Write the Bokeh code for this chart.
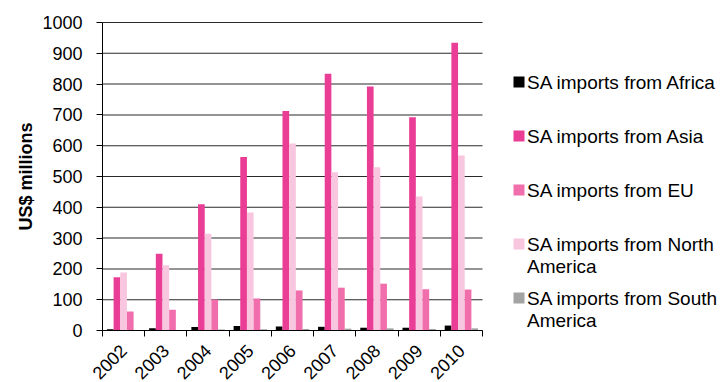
import math
from bokeh.plotting import figure
from bokeh.layouts import row
from bokeh.models import ColumnDataSource, Range1d, FixedTicker, NumeralTickFormatter
from bokeh.transform import dodge
from bokeh.core.properties import value
from bokeh.embed import file_html
from bokeh.resources import INLINE

years = [2002, 2003, 2004, 2005, 2006, 2007, 2008, 2009, 2010]
africa = [4, 7, 11, 15, 13, 12, 9, 9, 16]
asia = [173, 249, 410, 563, 713, 834, 792, 692, 934]
eu = [62, 67, 101, 104, 130, 139, 152, 134, 133]
north_america = [188, 212, 314, 383, 607, 514, 530, 435, 568]
south_america = [1, 1, 3, 4, 5, 6, 7, 5, 7]
y_ticks = [0, 100, 200, 300, 400, 500, 600, 700, 800, 900, 1000]
y_axis_title = "US$ millions"

legend_lines = [["SA imports from Africa"], ["SA imports from Asia"], ["SA imports from EU"],
                ["SA imports from North", "America"], ["SA imports from South", "America"]]
colors = {"africa": "#000000", "asia": "#EA3D96", "eu": "#F06EAC",
          "na": "#F9C6DF", "sa": "#A3A3A3"}

FONT = "Liberation Sans"

source = ColumnDataSource(dict(year=years, africa=africa, asia=asia, eu=eu,
                               na=north_america, sa=south_america))
grid_src = ColumnDataSource(dict(y=list(y_ticks)))

# ---- layout constants (pixels) ----
W, H = 500, 382
LEFT_PX, RIGHT_PX = 102, 482      # plot area left / right edge
TOP_PX, ZERO_PX = 22, 330         # pixel of the top tick value and of zero
y_max = y_ticks[-1]
x_lo, x_hi = years[0] - 0.5, years[-1] + 0.5
px_per_x = (RIGHT_PX - LEFT_PX) / (x_hi - x_lo)
px_per_y = (ZERO_PX - TOP_PX) / y_max

x_range = Range1d(x_lo - LEFT_PX / px_per_x, x_hi + (W - RIGHT_PX) / px_per_x)
y_range = Range1d(-(H - ZERO_PX) / px_per_y, y_max + TOP_PX / px_per_y)

p = figure(width=W, height=H, output_backend="svg", toolbar_location=None,
           x_range=x_range, y_range=y_range, min_border=0)

p.outline_line_color = None
p.grid.grid_line_color = None

# horizontal gridlines (1 px tall bars) across the plot area, drawn before the bars
p.hbar(y="y", left=x_lo, right=x_hi, height=1.0 / px_per_y, source=grid_src,
       fill_color="#2a2a2a", line_color=None)

bw = 0.158
order = ["africa", "asia", "na", "eu", "sa"]
for i, key in enumerate(order):
    p.vbar(x=dodge("year", (i - 2) * bw, range=p.x_range), top=key, width=bw,
           source=source, fill_color=colors[key], line_color=None)

# y axis pinned at the left edge of the plot area
p.yaxis.fixed_location = x_lo
p.yaxis.bounds = (0, y_max)
p.yaxis.ticker = FixedTicker(ticks=y_ticks)
p.yaxis.major_label_text_font = FONT
p.yaxis.major_label_text_font_size = "18px"
p.yaxis.major_label_text_color = "black"
p.yaxis.major_tick_out = 6
p.yaxis.major_tick_in = 0
p.yaxis.major_tick_line_color = "black"
p.yaxis.minor_tick_line_color = None
p.yaxis.major_label_standoff = 14
p.yaxis.axis_line_color = "black"

# y axis title as rotated text, centred on 0..max
p.text(x=[x_lo - (LEFT_PX - 25) / px_per_x], y=[y_max / 2], text=[y_axis_title],
       angle=math.pi / 2, text_font=value(FONT), text_font_style="bold",
       text_font_size="18px", text_align="center", text_baseline="middle",
       text_color="black")

# x axis pinned at zero
boundaries = [y - 0.5 for y in years] + [years[-1] + 0.5]
p.xaxis.fixed_location = 0
p.xaxis.bounds = (x_lo, x_hi)
p.xaxis.ticker = FixedTicker(ticks=years, minor_ticks=boundaries)
p.xaxis.formatter = NumeralTickFormatter(format="0")
p.xaxis.major_tick_line_color = None
p.xaxis.minor_tick_out = 6
p.xaxis.minor_tick_in = 0
p.xaxis.minor_tick_line_color = "black"
p.xaxis.axis_line_color = "black"
p.xaxis.major_label_orientation = math.pi / 4
p.xaxis.major_label_text_font = FONT
p.xaxis.major_label_text_font_size = "18px"
p.xaxis.major_label_text_color = "black"
p.xaxis.major_label_standoff = 11

# legend panel
lg = figure(width=720 - W, height=H, output_backend="svg", toolbar_location=None,
            x_range=Range1d(0, 720 - W), y_range=Range1d(H, 0), min_border=0)
lg.axis.visible = False
lg.grid.grid_line_color = None
lg.outline_line_color = None

legend_colors = [colors["africa"], colors["asia"], colors["eu"], colors["na"], colors["sa"]]
entry_y = [81.5, 135.5, 189.5, 243.5, 297.5]
line_gap = 22.5
lg.rect(x=[18.5] * 5, y=entry_y, width=11, height=11, fill_color=legend_colors, line_color=None)
tx, ty, tt = [], [], []
for ey, lines in zip(entry_y, legend_lines):
    for j, t in enumerate(lines):
        tx.append(26.5)
        ty.append(ey + j * line_gap)
        tt.append(t)
lg.text(x=tx, y=ty, text=tt, text_font=value(FONT), text_font_size="19px",
        text_baseline="middle", text_align="left", text_color="black")

layout = row(p, lg, spacing=0)
open("out.html", "w").write(file_html(layout, INLINE))
